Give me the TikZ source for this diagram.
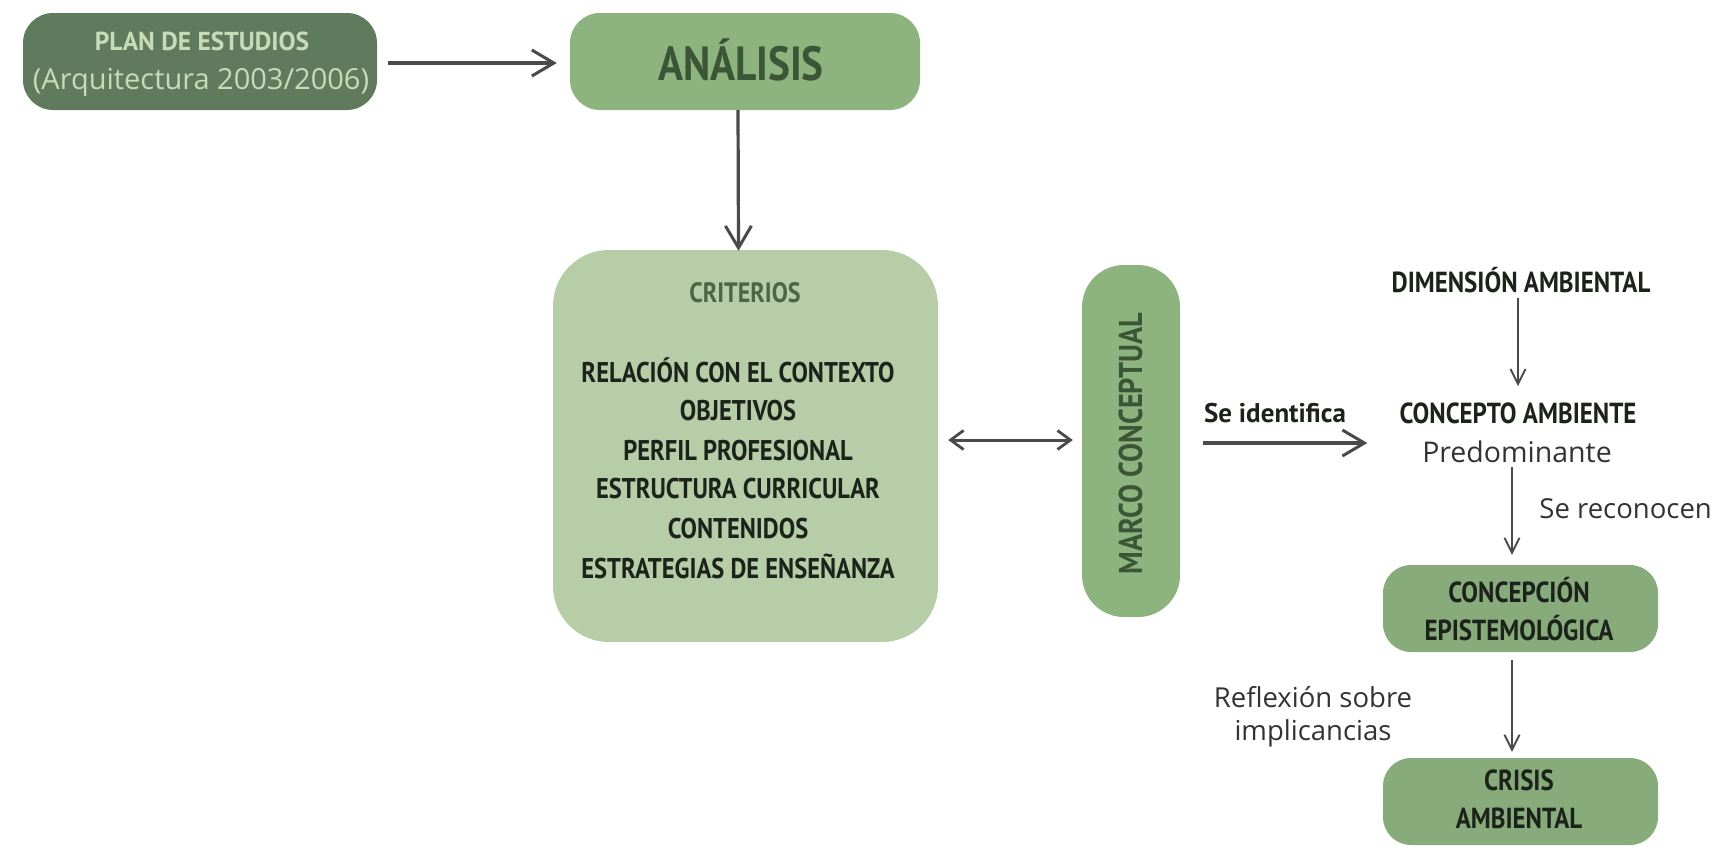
\documentclass[tikz,border=0pt]{standalone}
\usepackage{fontspec}
\setmainfont{Open Sans}
\newfontfamily\cond[FakeStretch=0.86]{PT Sans}
\newfontfamily\condw[FakeStretch=0.98]{PT Sans}
\newfontfamily\ptsans{PT Sans}
\usetikzlibrary{arrows.meta}
\definecolor{dkgreen}{HTML}{607A5D}
\definecolor{mdgreen}{HTML}{8DB47E}
\definecolor{ltgreen}{HTML}{B6CDA7}
\definecolor{boxgreen}{HTML}{88AB7B}
\definecolor{palegreen}{HTML}{C6DCB7}
\definecolor{txtgreen}{HTML}{3B5636}
\definecolor{crgreen}{HTML}{4A6644}
\definecolor{ink}{HTML}{1C231A}
\definecolor{graytxt}{HTML}{333333}
\definecolor{arrowgray}{HTML}{4A4A4A}
\tikzset{
  boxbase/.style={inner sep=0pt, draw=none},
  txt/.style={inner sep=0pt, anchor=base},
  bigarrow/.style={draw=arrowgray, line width=3.2pt, -{Straight Barb[length=22pt,width=26pt,line width=3pt]}},
  dblarrow/.style={draw=arrowgray, line width=3pt, {Straight Barb[length=13pt,width=19pt,line width=2.8pt]}-{Straight Barb[length=13pt,width=19pt,line width=2.8pt]}},
  smallarrow/.style={draw=arrowgray, line width=1.9pt, -{Straight Barb[length=15pt,width=15pt,line width=1.9pt]}},
  capsbold/.style={txt, text=ink, font=\cond\bfseries\fontsize{29}{38}\selectfont},
  plaintxt/.style={txt, text=graytxt, font=\fontsize{27.5}{36}\selectfont},
}
\begin{document}
\begin{tikzpicture}[x=1pt,y=-1pt]
\useasboundingbox (0,0) rectangle (1715,847);

% ---------- top row ----------
\node[boxbase, fill=dkgreen, rounded corners=30pt, minimum width=354pt, minimum height=97pt] (plan) at (200,61.5) {};
\node[txt, text=palegreen, font=\condw\bfseries\fontsize{26}{30}\selectfont] (plant) at (202,50) {PLAN DE ESTUDIOS};
\node[txt, text=palegreen, font=\fontsize{29}{34}\selectfont] (arq) at (201,89) {(Arquitectura 2003/2006)};

\node[boxbase, fill=mdgreen, rounded corners=30pt, minimum width=350pt, minimum height=97pt] (analisis) at (745,61.5) {};
\node[txt, text=txtgreen, font=\cond\bfseries\fontsize{48}{56}\selectfont] (analisist) at (741,80) {ANÁLISIS};

% ---------- criterios ----------
\node[boxbase, fill=ltgreen, rounded corners=56pt, minimum width=385pt, minimum height=392pt] (criterios) at (745.5,446) {};
\node[txt, text=crgreen, font=\cond\bfseries\fontsize{28}{34}\selectfont] (crit) at (745,302) {CRITERIOS};
\node[capsbold, font=\cond\bfseries\fontsize{28.5}{34}\selectfont] (item1) at (738,382) {RELACIÓN CON EL CONTEXTO};
\node[capsbold, font=\cond\bfseries\fontsize{28.5}{34}\selectfont] (item2) at (738,420) {OBJETIVOS};
\node[capsbold, font=\cond\bfseries\fontsize{28.5}{34}\selectfont] (item3) at (738,460) {PERFIL PROFESIONAL};
\node[capsbold, font=\cond\bfseries\fontsize{28.5}{34}\selectfont] (item4) at (738,498) {ESTRUCTURA CURRICULAR};
\node[capsbold, font=\cond\bfseries\fontsize{28.5}{34}\selectfont] (item5) at (738,538) {CONTENIDOS};
\node[capsbold, font=\cond\bfseries\fontsize{28.5}{34}\selectfont] (item6) at (738,578) {ESTRATEGIAS DE ENSEÑANZA};

% ---------- marco conceptual ----------
\node[boxbase, fill=mdgreen, rounded corners=42pt, minimum width=98pt, minimum height=352pt] (marco) at (1131,441) {};
\node[txt, rotate=90, text=txtgreen, font=\cond\bfseries\fontsize{33}{40}\selectfont] (marcot) at (1142,443.5) {MARCO CONCEPTUAL};

% ---------- right column ----------
\node[txt, text=ink, font=\ptsans\bfseries\fontsize{27}{32}\selectfont] (seid) at (1275,422) {Se identifica};
\node[capsbold] (dim) at (1521,292) {DIMENSIÓN AMBIENTAL};
\node[capsbold] (concepto) at (1518,423) {CONCEPTO AMBIENTE};
\node[plaintxt, font=\fontsize{28.5}{36}\selectfont] (predom) at (1517,462) {Predominante};
\node[plaintxt, anchor=base east] (reco) at (1712,518) {Se reconocen};

\node[boxbase, fill=boxgreen, rounded corners=28pt, minimum width=275pt, minimum height=87pt] (concepcion) at (1520.5,608.5) {};
\node[capsbold] (concep1) at (1519,602) {CONCEPCIÓN};
\node[capsbold] (concep2) at (1519,640) {EPISTEMOLÓGICA};

\node[plaintxt] (reflex1) at (1313,707) {Reflexión sobre};
\node[plaintxt] (reflex2) at (1313,740) {implicancias};

\node[boxbase, fill=boxgreen, rounded corners=28pt, minimum width=275pt, minimum height=87pt] (crisis) at (1520.5,801.5) {};
\node[capsbold] (crisis1) at (1519,790) {CRISIS};
\node[capsbold] (crisis2) at (1519,828) {AMBIENTAL};

% ---------- connectors ----------
\draw[bigarrow, shorten <=11pt, shorten >=13pt] ([yshift=-1.5pt]plan.east) -- ([yshift=-1.5pt]analisis.west);
\draw[bigarrow, shorten >=-1pt] ([xshift=-7pt]analisis.south) -- ([xshift=-7pt]criterios.north);
\draw[dblarrow, shorten <=10pt, shorten >=9pt] ([yshift=6pt]criterios.east) -- ([yshift=1pt]marco.west);
\draw[bigarrow, shorten <=23pt, shorten >=32pt] ([yshift=-2pt]marco.east) -- ([yshift=-2pt]marco.east -| concepto.west);
\draw[smallarrow, shorten <=5pt, shorten >=16pt] ([xshift=-3pt]dim.south) -- (concepto.north);
\draw[smallarrow, shorten <=5pt, shorten >=10pt] ([xshift=-8.5pt]concepcion.north |- predom.south) -- ([xshift=-8.5pt]concepcion.north);
\draw[smallarrow, shorten <=8pt, shorten >=6pt] ([xshift=-8.5pt]concepcion.south) -- ([xshift=-8.5pt]crisis.north);
\end{tikzpicture}
\end{document}
